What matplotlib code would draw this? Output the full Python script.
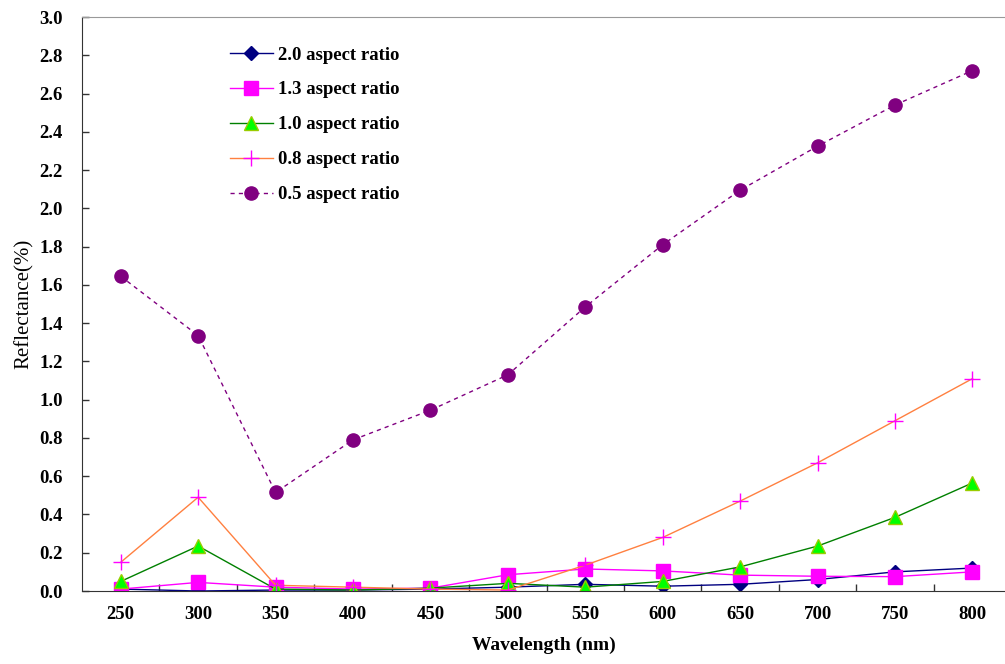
import matplotlib.pyplot as plt
import numpy as np

# Data
wavelength = [250, 300, 350, 400, 450, 500, 550, 600, 650, 700, 750, 800]
ar_20 = [0.01, 0.00, 0.005, 0.005, 0.01, 0.02, 0.035, 0.025, 0.035, 0.06, 0.10, 0.12]
ar_13 = [0.01, 0.045, 0.02, 0.01, 0.015, 0.085, 0.115, 0.105, 0.083, 0.077, 0.075, 0.10]
ar_10 = [0.05, 0.235, 0.01, 0.005, 0.015, 0.04, 0.02, 0.05, 0.126, 0.235, 0.385, 0.565]
ar_08 = [0.15, 0.49, 0.03, 0.02, 0.01, 0.005, 0.135, 0.28, 0.47, 0.67, 0.89, 1.11]
ar_05 = [1.645, 1.335, 0.515, 0.79, 0.945, 1.13, 1.485, 1.81, 2.095, 2.325, 2.54, 2.72]

plt.rcParams['font.family'] = ['Liberation Serif', 'DejaVu Serif']
plt.rcParams['font.weight'] = 'bold'

fig = plt.figure(figsize=(10.05, 6.64), dpi=100)
ax = fig.add_axes([82 / 1005, 1 - 591 / 664, (1005 - 82) / 1005, (591 - 17) / 664])

ax.plot(wavelength, ar_20, color='#000080', lw=1.0, marker='D', ms=7,
        mfc='#000080', mec='#000080', label='2.0 aspect ratio')
ax.plot(wavelength, ar_13, color='#FF00FF', lw=1.0, marker='s', ms=9.5,
        mfc='#FF00FF', mec='#FF00FF', label='1.3 aspect ratio')
ax.plot(wavelength, ar_10, color='#008000', lw=1.0, marker='^', ms=10,
        mfc='#00FF00', mec='#99CC00', label='1.0 aspect ratio')
ax.plot(wavelength, ar_08, color='#FF8040', lw=1.0, marker='+', ms=11, mew=1.0,
        mec='#FF00FF', label='0.8 aspect ratio')
ax.plot(wavelength, ar_05, color='#800080', lw=1.0, ls=(0, (3, 3)), marker='o', ms=9.5,
        mfc='#800080', mec='#800080', label='0.5 aspect ratio')

ax.set_xlim(225, 821)
ax.set_ylim(0, 3.0)
ax.set_yticks(np.arange(0, 3.01, 0.2))
ax.set_yticklabels([f'{v:.1f}' for v in np.arange(0, 3.01, 0.2)])
ax.set_xticks(wavelength)
ax.set_xticks(np.arange(275, 800, 50), minor=True)

ax.tick_params(axis='x', which='major', length=0, labelsize=13.5, pad=11)
ax.tick_params(axis='x', which='minor', direction='in', length=5, width=1, color='#333333')
ax.tick_params(axis='y', direction='in', length=5, width=1, labelsize=13.5, pad=14, color='#333333')

ax.spines['right'].set_visible(False)
ax.spines['top'].set_color('#999999')
ax.spines['left'].set_color('#333333')
ax.spines['bottom'].set_color('#333333')

ax.set_xlabel('Wavelength (nm)', fontsize=14, fontweight='bold', labelpad=10)
ax.set_ylabel('Reflectance(%)', fontsize=15, fontweight='normal', labelpad=4)

ax.legend(loc='upper left', bbox_to_anchor=(221 / 1005, 1 - 37 / 664),
          bbox_transform=fig.transFigure, frameon=False, fontsize=13.5,
          handlelength=2.25, handletextpad=0.3, labelspacing=0.95, borderpad=0)

fig.savefig('out.png', dpi=100, facecolor='white')
